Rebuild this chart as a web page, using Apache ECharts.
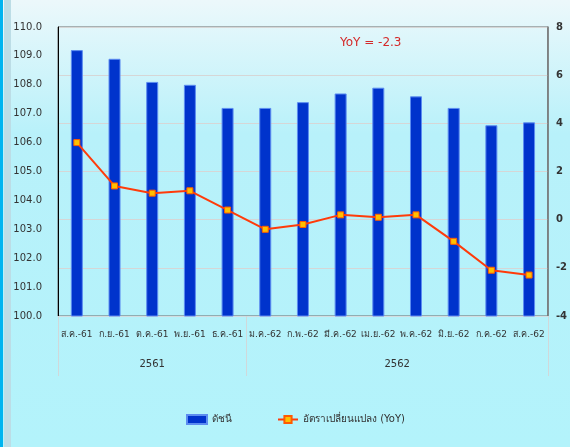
<!DOCTYPE html>
<html>
<head>
<meta charset="utf-8">
<script src="https://cdn.jsdelivr.net/npm/echarts@6/dist/echarts.min.js"></script>
<style>
  html, body { margin: 0; padding: 0; }
  #chart { width: 570px; height: 447px; }
</style>
</head>
<body>
<div id="chart"></div>
<script>
// monthly categories (Thai months, BE years)
const months = ['ส.ค.-61', 'ก.ย.-61', 'ต.ค.-61', 'พ.ย.-61', 'ธ.ค.-61', 'ม.ค.-62', 'ก.พ.-62',
  'มี.ค.-62', 'เม.ย.-62', 'พ.ค.-62', 'มิ.ย.-62', 'ก.ค.-62', 'ส.ค.-62'];
const years = ['2561', '2562'];
const yearSpans = [5, 8];
const indexValues = [109.2, 108.9, 108.1, 108.0, 107.2, 107.2, 107.4, 107.7, 107.9, 107.6, 107.2, 106.6, 106.7];
const yoyValues = [3.2, 1.4, 1.1, 1.2, 0.4, -0.4, -0.2, 0.2, 0.1, 0.2, -0.9, -2.1, -2.3];
const seriesNames = ['ดัชนี', 'อัตราเปลี่ยนแปลง (YoY)'];
const yoyNote = 'YoY = -2.3';

const font = '"DejaVu Sans", "Noto Sans", sans-serif';

// year group boundaries & centres on a 0..n value scale
const bounds = [0];
yearSpans.forEach(s => bounds.push(bounds[bounds.length - 1] + s));
const centres = yearSpans.map((s, i) => bounds[i] + s / 2);

const chart = echarts.init(document.getElementById('chart'));
chart.setOption({
  backgroundColor: {
    type: 'linear', x: 0, y: 0, x2: 0, y2: 1,
    colorStops: [
      { offset: 0, color: '#ecf8fb' },
      { offset: 0.3, color: '#b8f1fa' },
      { offset: 1, color: '#b3f3fb' }
    ]
  },
  textStyle: { fontFamily: font },
  animation: false,
  graphic: [
    { type: 'rect', shape: { x: 0, y: 0, width: 3, height: 447 }, style: { fill: '#00b4f0' } },
    { type: 'rect', shape: { x: 4, y: 0, width: 7, height: 447 }, style: { fill: '#bcdde6' } },
    {
      type: 'text', left: 340, top: 37, z: 10,
      style: { text: yoyNote, fill: '#d42a2a', font: '12px ' + font }
    }
  ],
  grid: {
    left: 58, right: 22, top: 27, bottom: 131,
    show: true, borderColor: '#6a6a6a', borderWidth: 1, backgroundColor: 'transparent'
  },
  legend: {
    left: 181, top: 409,
    itemWidth: 20, itemHeight: 9, itemGap: 45,
    textStyle: { fontSize: 10, color: '#333', fontFamily: font },
    data: [
      { name: seriesNames[0], icon: 'rect' },
      { name: seriesNames[1] }
    ]
  },
  xAxis: [
    {
      type: 'category',
      data: months,
      position: 'bottom',
      axisLine: { show: true, onZero: false, lineStyle: { color: '#d4dde0', width: 1 } },
      axisTick: { show: false },
      axisLabel: { fontSize: 9, color: '#333', margin: 14, interval: 0 }
    },
    {
      type: 'value',
      min: 0, max: months.length,
      position: 'bottom',
      splitLine: { show: false },
      axisLine: { show: false, onZero: false },
      axisTick: {
        show: true, inside: false, length: 60,
        customValues: bounds,
        lineStyle: { color: '#d0d8da', width: 1 }
      },
      axisLabel: {
        fontSize: 10, color: '#333', margin: 43,
        customValues: centres,
        formatter: v => {
          const i = centres.indexOf(v);
          return i >= 0 ? years[i] : '';
        }
      }
    }
  ],
  yAxis: [
    {
      type: 'value',
      min: 100, max: 110, interval: 1,
      position: 'left',
      splitLine: { show: false },
      axisLine: { show: true, onZero: false, lineStyle: { color: '#000', width: 1 } },
      axisTick: { show: false },
      axisLabel: { fontSize: 10, color: '#333', margin: 16, formatter: v => v.toFixed(1) }
    },
    {
      type: 'value',
      min: -4, max: 8, interval: 2,
      position: 'right',
      splitLine: { show: true, lineStyle: { color: '#d6d6d6', width: 1 } },
      axisLine: { show: true, onZero: false, lineStyle: { color: '#777', width: 1.5 } },
      axisTick: { show: false },
      axisLabel: { fontSize: 10, color: '#333', margin: 8, fontWeight: 'bold' }
    }
  ],
  series: [
    {
      name: seriesNames[0],
      type: 'bar',
      xAxisIndex: 0, yAxisIndex: 0,
      data: indexValues,
      barWidth: 12,
      itemStyle: { color: '#0033cc', borderColor: '#5c8cf0', borderWidth: 1 }
    },
    {
      name: seriesNames[1],
      type: 'line',
      xAxisIndex: 0, yAxisIndex: 1,
      data: yoyValues,
      symbol: 'rect',
      symbolSize: 6,
      lineStyle: { color: '#ff3b0a', width: 2 },
      itemStyle: { color: '#ffc000', borderColor: '#ff5a00', borderWidth: 1 },
      z: 5
    }
  ]
});
</script>
</body>
</html>
